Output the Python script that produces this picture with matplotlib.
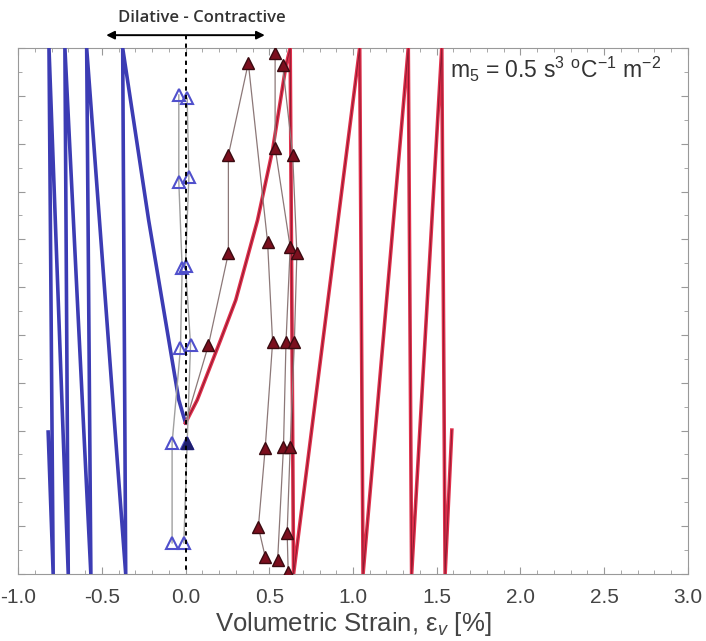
"""Volumetric strain profiles, dilative vs contractive response."""
import numpy as np
import matplotlib
matplotlib.use('Agg')
import matplotlib.pyplot as plt
from matplotlib.ticker import MultipleLocator

plt.rcParams['font.family'] = ['Liberation Sans', 'DejaVu Sans']
plt.rcParams['mathtext.fontset'] = 'custom'
plt.rcParams['mathtext.rm'] = 'Liberation Sans'
plt.rcParams['mathtext.it'] = 'Liberation Sans:italic'

# model curves (depth runs 0 at top to 11 at bottom)
blue_x = [0.0, -0.04, -0.22, -0.375, -0.357, -0.59, -0.565, -0.72, -0.70, -0.815, -0.79, -0.82]
blue_y = [7.84, 7.36, 3.60, 0.0, 11.0, 0.0, 11.0, 0.0, 11.0, 0.0, 11.0, 8.03]
red_x = [0.0, 0.07, 0.21, 0.30, 0.43, 0.52, 0.60, 0.625, 0.645, 1.04, 1.06, 1.33, 1.35, 1.53, 1.55, 1.59]
red_y = [7.84, 7.36, 6.10, 5.27, 3.60, 2.13, 0.36, 0.0, 11.0, 0.0, 11.0, 0.0, 11.0, 0.0, 11.0, 7.99]

# measured points, dilative side
dil1_x = [-0.04, -0.04, -0.02, -0.03, -0.08, -0.08]
dil1_y = [0.98, 2.80, 4.60, 6.27, 8.26, 10.35]
dil2_x = [0.01, 0.02, 0.0, 0.03, 0.01, -0.01]
dil2_y = [1.05, 2.70, 4.55, 6.20, 8.26, 10.35]

# measured points, contractive side
con1_x = [0.0, 0.137, 0.256, 0.256, 0.375, 0.49, 0.52, 0.476, 0.435, 0.476]
con1_y = [7.84, 6.21, 4.29, 2.24, 0.31, 4.06, 6.15, 8.36, 10.02, 10.64]
con2_x = [0.55, 0.585, 0.60, 0.625, 0.535, 0.535]
con2_y = [10.71, 8.34, 6.15, 4.16, 2.09, 0.10]
con3_x = [0.613, 0.607, 0.625, 0.65, 0.665, 0.64, 0.58]
con3_y = [10.96, 10.14, 8.34, 6.15, 4.29, 2.24, 0.36]

fig = plt.figure(figsize=(7.06, 6.41), dpi=100)
ax = fig.add_axes([0.0255, 0.1045, 0.949, 0.8205])

ax.plot(blue_x, blue_y, color='#3c3cb4', lw=2.6, zorder=3)
ax.plot(red_x, red_y, color='#e0304c', lw=2.6, zorder=3)
ax.plot(red_x, red_y, color='#8e1a30', lw=0.7, zorder=3)

for xs, ys in [(dil1_x, dil1_y), (dil2_x, dil2_y)]:
    ax.plot(xs, ys, color='#a0a0a0', lw=1.0, zorder=4)
    ax.plot(xs, ys, ls='none', marker='^', ms=9, mfc='none',
            mec='#5050cc', mew=1.5, zorder=5)
ax.plot(dil2_x[4], dil2_y[4], ls='none', marker='^', ms=9,
        mfc='#1e1e6e', mec='#1e1e6e', zorder=6)

for xs, ys, start in [(con1_x, con1_y, 1), (con2_x, con2_y, 0), (con3_x, con3_y, 0)]:
    ax.plot(xs, ys, color='#8c7878', lw=0.9, zorder=4)
    ax.plot(xs[start:], ys[start:], ls='none', marker='^', ms=9,
            mfc='#7b0f1e', mec='#3a0a10', mew=1.0, zorder=5)

# dilative / contractive divider and arrow
ax.plot([0, 0], [-0.27, 11], color='black', lw=1.4, ls=(0, (2.2, 2.2)),
        clip_on=False, zorder=6)
ax.annotate('', xy=(-0.49, -0.27), xytext=(0.49, -0.27),
            arrowprops=dict(arrowstyle='<|-|>', color='black', lw=1.4,
                            mutation_scale=12), annotation_clip=False)
ax.text(0.10, -0.63, 'Dilative - Contractive', ha='center', va='center',
        fontsize=12, fontweight='semibold', family=['Open Sans', 'DejaVu Sans'],
        color='#333333', clip_on=False)

ax.text(1.58, 0.45, r'm$_5$ = 0.5 s$^3$ $^\mathrm{o}$C$^{-1}$ m$^{-2}$',
        fontsize=16.5, color='#333333', va='center', ha='left')

ax.set_xlim(-1.0, 3.0)
ax.set_ylim(11, 0)
ax.xaxis.set_minor_locator(MultipleLocator(0.1))
ax.yaxis.set_major_locator(MultipleLocator(1))
ax.yaxis.set_minor_locator(MultipleLocator(0.5))
ticks = np.arange(-1.0, 3.01, 0.5)
ax.set_xticks(ticks)
ax.set_xticklabels(['%.1f' % v for v in ticks])
ax.set_yticklabels([])
ax.tick_params(which='both', direction='in', top=True, right=True,
               colors='#999999', labelcolor='#444444', labelsize=15)
ax.tick_params(which='major', length=5)
ax.tick_params(which='minor', length=3)
ax.tick_params(axis='x', pad=10)

for s in ax.spines.values():
    s.set_color('#999999')

ax.set_xlabel(r'Volumetric Strain, ε$_v$ [%]', fontsize=18.5, color='#444444',
              labelpad=2)

fig.savefig('out.png', dpi=100)
